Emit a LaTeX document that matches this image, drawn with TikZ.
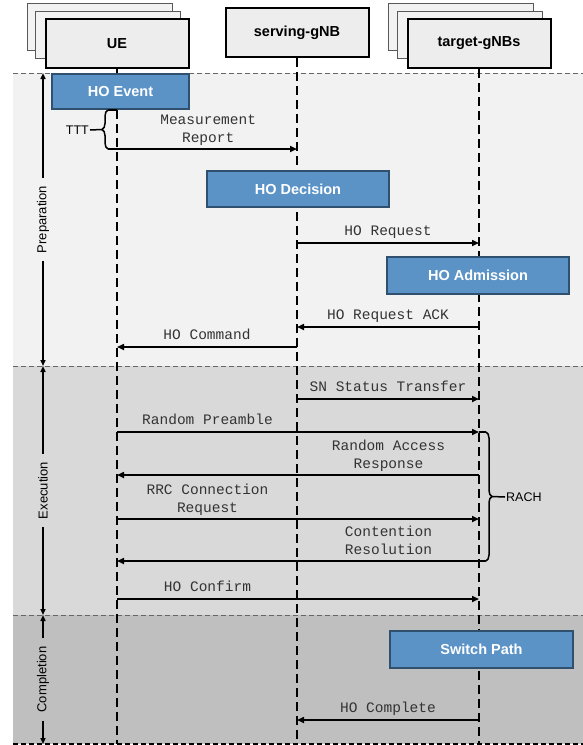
\documentclass[tikz,border=0pt]{standalone}
\usepackage{fontspec}
\setmainfont{Liberation Sans}
\setmonofont{Liberation Mono}
\usetikzlibrary{arrows.meta, positioning, decorations.pathreplacing}

\definecolor{bandA}{HTML}{F2F2F2}
\definecolor{bandB}{HTML}{D9D9D9}
\definecolor{bandC}{HTML}{BFBFBF}
\definecolor{hobox}{HTML}{5B93C7}
\definecolor{hoedge}{HTML}{30506F}
\definecolor{hdrfill}{HTML}{EDEDED}
\definecolor{msgtext}{HTML}{333333}

\tikzset{
  entity/.style={draw=black, line width=2pt, fill=hdrfill, minimum width=143pt, minimum height=49pt, font=\bfseries\fontsize{14.5}{17}\selectfont},
  ghost/.style={draw=black!65, line width=1pt, fill=hdrfill!70, minimum width=145pt, minimum height=47pt},
  action/.style={draw=hoedge, line width=1.5pt, fill=hobox, text=white, font=\bfseries\fontsize{14.5}{17}\selectfont, minimum width=182pt, minimum height=36pt},
  lifeline/.style={line width=2pt, dash pattern=on 9pt off 5pt},
  msgline/.style={line width=1.6pt, -{Triangle[length=7pt,width=6pt]}},
  msglabel/.style={font=\ttfamily\fontsize{14.5}{18}\selectfont, text=msgtext, align=center, inner sep=0pt, text depth=0pt},
  phasetip/.style={line width=1.5pt, -{Triangle[length=6pt,width=5pt]}},
  phaselabel/.style={font=\fontsize{13}{15}\selectfont, rotate=90, inner xsep=8pt, inner ysep=2pt},
  sep/.style={draw=black!60, line width=1pt, dash pattern=on 5pt off 3pt},
  bracket/.style={line width=1.5pt, decorate, decoration={brace, amplitude=6pt}},
  note/.style={font=\fontsize{12.5}{15}\selectfont, inner sep=1pt},
}

\begin{document}
\begin{tikzpicture}[x=1pt, y=-1pt]
	\useasboundingbox (0,0) rectangle (583,745);
	% phase bands
	\fill[bandA] (13,73) rectangle (583,366);
	\fill[bandB] (13,366) rectangle (583,615);
	\fill[bandC] (13,615) rectangle (583,744);
	\draw[sep] (13,73) -- (583,73);
	\draw[sep] (13,366) -- (583,366);
	\draw[sep] (13,615) -- (583,615);
	\draw[sep, draw=black, line width=1.5pt] (13,744) -- (583,744);

	% entities
	\node[ghost] at (99.5,26.5) {};
	\node[ghost] at (108,34.5) {};
	\node[entity] (ue) at (117,43.5) {UE};
	\node[entity] (srv) at (297,32.5) {serving-gNB};
	\node[ghost] at (461,26.5) {};
	\node[ghost] at (470,34.5) {};
	\node[entity] (tgt) at (479,43.5) {target-gNBs};

	\node[action, minimum width=137pt, minimum height=35pt] (ev) at (120.5,91.5) {HO Event};

	% lifelines
	\draw[line width=2pt] (ue.south) -- (ue |- ev.north);
	\draw[lifeline] (ue |- ev.south) -- (ue |- 0,744);
	\draw[lifeline] (srv.south) -- (srv |- 0,744);
	\draw[lifeline] (tgt.south) -- (tgt |- 0,744);

	\node[action] (dec) at (298,189) {HO Decision};
	\node[action, minimum height=37pt] (adm) at (478,275.5) {HO Admission};
	\node[action, minimum width=183pt, minimum height=37pt] (sw) at (481.5,649.5) {Switch Path};

	% TTT
	\coordinate (ttt-b) at (108,149);
	\coordinate (ttt-t) at (108,110);
	\coordinate (ttt-tip) at (102,129.5);
	\draw[bracket] (ttt-b) -- (ttt-t);
	\draw[line width=1.5pt] (ttt-t) -- (ue |- ttt-t);
	\node[note, anchor=east] (ttt) at (90,130) {TTT};
	\draw[line width=1.5pt] (ttt.east) -- (ttt-tip);

	% messages
	\draw[msgline] (ttt-b) -- node[msglabel, pos=0.53, above=6pt] {Measurement\\Report} (srv |- ttt-b);
	\draw[msgline] (srv |- 0,243) -- node[msglabel, above=7pt] {HO Request} (tgt |- 0,243);
	\draw[msgline] (tgt |- 0,327) -- node[msglabel, above=7pt] {HO Request ACK} (srv |- 0,327);
	\draw[msgline] (srv |- 0,347) -- node[msglabel, above=7pt] {HO Command} (ue |- 0,347);
	\draw[msgline] (srv |- 0,399) -- node[msglabel, above=7pt] {SN Status Transfer} (tgt |- 0,399);
	\draw[msgline] (ue |- 0,432) -- node[msglabel, pos=0.25, above=7pt] {Random Preamble} (tgt |- 0,432);
	\draw[msgline] (tgt |- 0,475) -- node[msglabel, pos=0.25, above=5.5pt] {Random Access\\Response} (ue |- 0,475);
	\draw[msgline] (ue |- 0,519) -- node[msglabel, pos=0.25, above=5.5pt] {RRC Connection\\Request} (tgt |- 0,519);
	\draw[msgline] (tgt |- 0,561) -- node[msglabel, pos=0.25, above=5.5pt] {Contention\\Resolution} (ue |- 0,561);
	\draw[msgline] (ue |- 0,599) -- node[msglabel, pos=0.25, above=7pt] {HO Confirm} (tgt |- 0,599);
	\draw[msgline] (tgt |- 0,720) -- node[msglabel, above=7pt] {HO Complete} (srv |- 0,720);

	% RACH
	\coordinate (rach-t) at (486,432);
	\coordinate (rach-b) at (486,561);
	\coordinate (rach-tip) at (492,496.5);
	\draw[line width=1.5pt] (tgt |- rach-t) -- (rach-t);
	\draw[line width=1.5pt] (tgt |- rach-b) -- (rach-b);
	\draw[bracket] (rach-t) -- (rach-b);
	\node[note, anchor=west] (rach) at (505,497) {RACH};
	\draw[line width=1.5pt] (rach-tip) -- (rach.west);

	% phases
	\node[phaselabel, fill=bandA] (prep) at (43,219.5) {Preparation};
	\draw[phasetip] (prep.east) -- (43,73);
	\draw[phasetip] (prep.west) -- (43,366);
	\node[phaselabel, fill=bandB] (exec) at (43,490.5) {Execution};
	\draw[phasetip] (exec.east) -- (43,366);
	\draw[phasetip] (exec.west) -- (43,615);
	\node[phaselabel, fill=bandC] (comp) at (43,679.5) {Completion};
	\draw[phasetip] (comp.east) -- (43,615);
	\draw[phasetip] (comp.west) -- (43,744);
\end{tikzpicture}
\end{document}
